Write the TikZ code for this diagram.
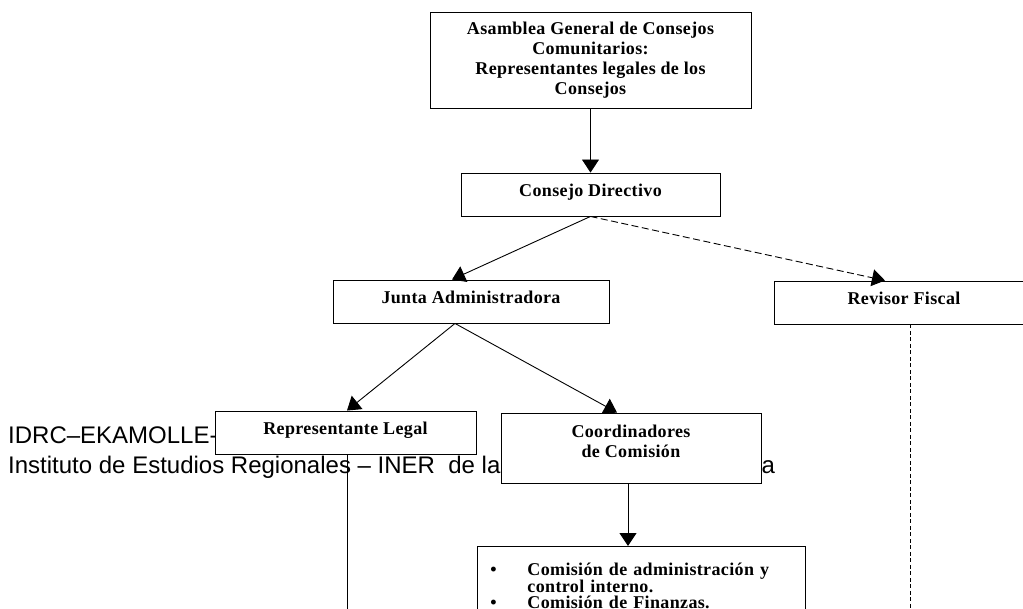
\documentclass[tikz,border=0pt]{standalone}
\usepackage{fontspec}
\setmainfont{Liberation Serif}
\newfontfamily\boxfont[LetterSpace=2]{Liberation Serif}
\newfontfamily\notefont{Liberation Sans}
\usetikzlibrary{arrows.meta}

\begin{document}
\begin{tikzpicture}[x=1pt,y=-1pt,
  orgbox/.style={draw=black, line width=0.9pt, fill=white, inner sep=0pt,
    font=\boxfont\bfseries\fontsize{18}{20}\selectfont, align=center},
  single/.style={orgbox, text height=12pt, text depth=7pt, minimum height=43pt},
  link/.style={line width=0.9pt, -{Triangle[length=13pt,width=17pt]}},
  dlink/.style={link, dash pattern=on 7pt off 3.5pt},
  plain/.style={line width=0.9pt},
  note/.style={font=\notefont\fontsize{24}{29}\selectfont, inner sep=0pt, anchor=base west}]

\useasboundingbox (0,0) rectangle (1023,609);
\clip (0,0) rectangle (1023,609);
\fill[white] (0,0) rectangle (1023,609);
\coordinate (bottom) at (0,640);

% page header lines behind the chart
\node[note] (idrc) at (8,444) {IDRC–EKAMOLLE-};
\node[note] (iner) at (8,473) {Instituto de Estudios Regionales – INER\ \ de la};
\node[note] (inerend) at (761.5,473) {a};

% chart boxes
\node[orgbox, minimum width=321pt, minimum height=96pt] (asam) at (590.5,60)
  {Asamblea General de Consejos\\Comunitarios:\\Representantes legales de los\\Consejos};
\node[single, minimum width=259pt] (cons) at (590.5,194.5) {Consejo Directivo};
\node[single, minimum width=276pt] (junta) at (471,301.5) {Junta Administradora};
\node[single, minimum width=260pt] (rev) at (904,302.5) {Revisor Fiscal};
\node[single, minimum width=261pt] (rep) at (345.5,432.5) {Representante Legal};
\node[orgbox, minimum width=260pt, minimum height=70pt] (coord) at (631,448)
  {Coordinadores\\de Comisión\rule[-14pt]{0pt}{1pt}};
\node[orgbox, anchor=north west, text width=328pt, align=left, inner ysep=17pt,
  font=\boxfont\bfseries\fontsize{18}{16.5}\selectfont] (com) at (477,546)
  {\setlength\parskip{0pt}%
   \hangindent=50pt\hangafter=1\noindent\makebox[50pt][l]{\hspace{13pt}\textbullet}Comisión de administración y\newline control interno.\par
   \hangindent=50pt\hangafter=1\noindent\makebox[50pt][l]{\hspace{13pt}\textbullet}Comisión de Finanzas.\par};

% connectors
\draw[link] (asam.south) -- (cons.north);
\draw[link] (cons.south) -- ([xshift=-19pt]junta.north);
\draw[dlink] (cons.south) -- ([xshift=-19pt]rev.north);
\draw[link] ([xshift=-16pt]junta.south) -- ([xshift=1.5pt]rep.north);
\draw[link] ([xshift=-16pt]junta.south) -- ([xshift=-14pt]coord.north);
\draw[link] ([xshift=-3pt]coord.south) -- ([xshift=-3pt]coord.south |- com.north);
\draw[plain] ([xshift=1.5pt]rep.south) -- ([xshift=1.5pt]rep.south |- bottom);
\draw[plain, dash pattern=on 4pt off 2.5pt] ([xshift=6pt]rev.south) -- ([xshift=6pt]rev.south |- bottom);
\end{tikzpicture}
\end{document}
